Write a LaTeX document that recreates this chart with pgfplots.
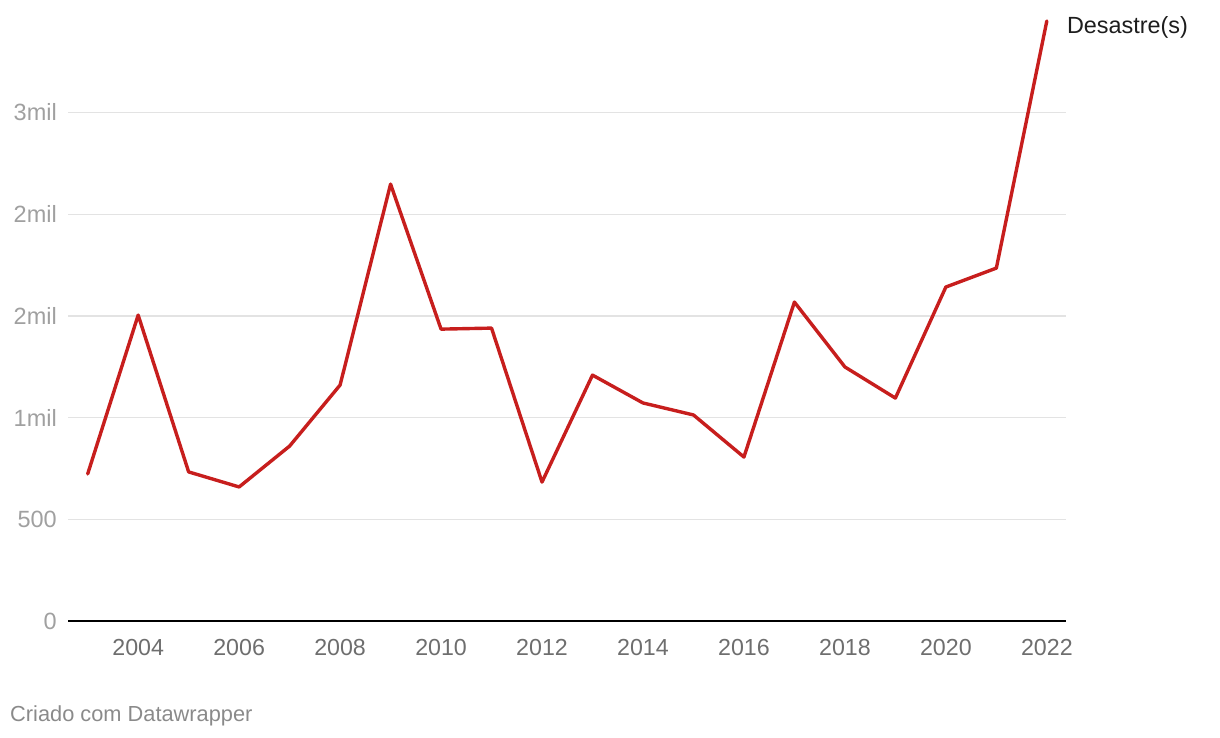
\documentclass[border=0pt]{standalone}
\usepackage{pgfplots}
\pgfplotsset{compat=1.18}
\usepackage{fontspec}
\setmainfont{Liberation Sans}
\definecolor{linered}{HTML}{C71E1D}
\definecolor{ylab}{HTML}{A0A0A0}
\definecolor{xlab}{HTML}{6E6E6E}
\definecolor{gridc}{HTML}{E3E3E3}
\definecolor{foot}{HTML}{8A8A8A}
\definecolor{serlab}{HTML}{1D1D1D}
\begin{document}
\begin{tikzpicture}[x=1pt,y=1pt]
\useasboundingbox (0,0) rectangle (1220,738);
\begin{axis}[
  at={(68pt,117pt)}, anchor=south west,
  scale only axis, width=998pt, height=600pt,
  xmin=2002.61, xmax=2022.38, ymin=0, ymax=2950,
  clip=false,
  axis line style={draw=none},
  major tick length=0pt,
  xtick={2004,2006,...,2022},
  xticklabels={2004,2006,2008,2010,2012,2014,2016,2018,2020,2022},
  ytick={500,1000,1500,2000,2500},
  yticklabels={500,1mil,2mil,2mil,3mil},
  extra y ticks={0},
  extra y tick labels={0},
  extra y tick style={grid style={draw=black, line width=1.6pt}},
  ymajorgrids,
  grid style={draw=gridc, line width=1.2pt},
  xticklabel style={font=\fontsize{23.2}{27}\selectfont, text=xlab, anchor=base, inner sep=0pt, yshift=-35pt},
  yticklabel style={font=\fontsize{23.5}{27}\selectfont, text=ylab, anchor=east, inner sep=0pt, xshift=-11pt},
]
\addplot[linered, line width=3.4pt, line join=round, line cap=round] coordinates {
(2003,723) (2004,1504) (2005,733) (2006,659) (2007,860) (2008,1160)
(2009,2148) (2010,1435) (2011,1440) (2012,683) (2013,1209) (2014,1072)
(2015,1013) (2016,806) (2017,1568) (2018,1249) (2019,1096) (2020,1642)
(2021,1735) (2022,2950)
};
\node[anchor=west, inner sep=0pt, xshift=20pt, yshift=-6pt, text=serlab,
  font=\fontsize{23.4}{27}\selectfont] at (axis cs:2022,2950) {Desastre(s)};
\end{axis}
\node[anchor=west, inner sep=0pt, text=foot, font=\fontsize{21.8}{25}\selectfont] at (10,22.5) {Criado com Datawrapper};
\end{tikzpicture}
\end{document}
